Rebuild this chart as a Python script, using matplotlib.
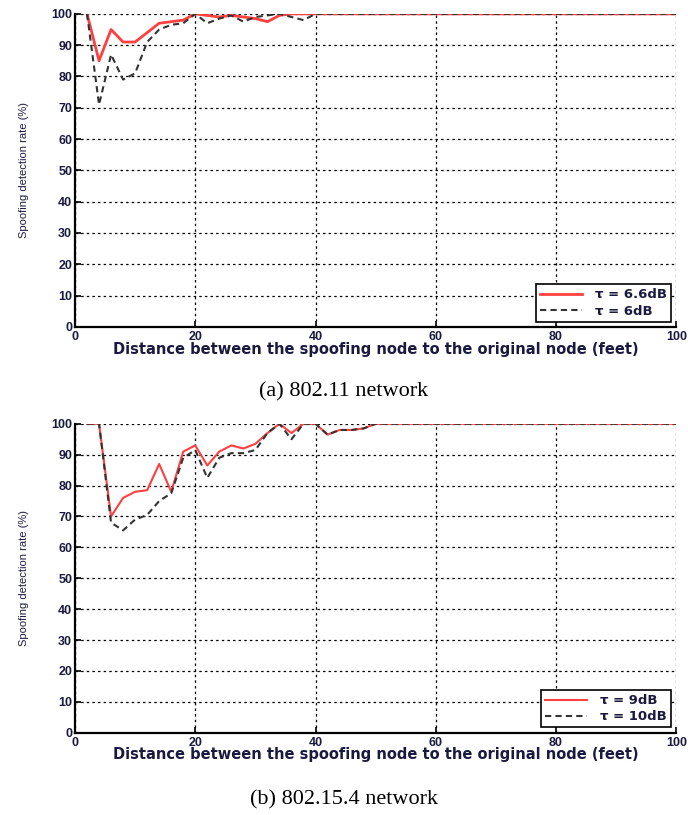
import numpy as np
import matplotlib
matplotlib.use('Agg')
import matplotlib.pyplot as plt

# (a) 802.11 network
x_a = [2, 4, 6, 8, 10, 12, 14, 16, 18, 20, 22, 24, 26, 28, 30, 32, 34, 36, 38, 40,
       50, 60, 70, 80, 90, 100]
red_a = [100, 85, 95, 91, 91, 94, 97, 97.5, 98, 100, 99.5, 99, 99.5, 99, 98.5, 97.5, 99.5, 100, 100, 100,
         100, 100, 100, 100, 100, 100]
blk_a = [100, 71, 87, 79, 81, 91, 95, 96.5, 97, 100, 97, 98.5, 99.5, 97.5, 99, 99.5, 100, 99, 98, 100,
         100, 100, 100, 100, 100, 100]

# (b) 802.15.4 network
x_b = [2, 4, 6, 8, 10, 12, 14, 16, 18, 20, 22, 24, 26, 28, 30, 32, 34, 36, 38, 40,
       42, 44, 46, 48, 50, 60, 70, 80, 90, 100]
red_b = [100, 100, 70, 76, 78, 78.5, 87, 78, 91, 93, 86.5, 91, 93, 92, 93.5, 97, 100, 97, 100, 100,
         96.5, 98, 98, 98.5, 100, 100, 100, 100, 100, 100]
blk_b = [100, 100, 68, 65.5, 69, 70.5, 75, 77.5, 89, 91.5, 82.5, 89, 90.5, 90.5, 91.5, 97, 100, 95, 100, 100,
         96.5, 98, 98, 98.5, 100, 100, 100, 100, 100, 100]

labels_a = ['τ = 6.6dB', 'τ = 6dB']
labels_b = ['τ = 9dB', 'τ = 10dB']
captions = ['(a) 802.11 network', '(b) 802.15.4 network']
xlab = 'Distance between the spoofing node to the original node (feet)'
ylab = 'Spoofing detection rate (%)'

plt.rcParams['font.family'] = ['Liberation Sans', 'DejaVu Sans']

fig = plt.figure(figsize=(6.88, 8.15), dpi=100)
ax1 = fig.add_axes([0.109, 0.599, 0.874, 0.384])
ax2 = fig.add_axes([0.109, 0.101, 0.874, 0.379])

ink = '#1a1a40'


def style(ax, x, r, b, labels, red_lw):
    ax.plot(x, r, '-', color='#ff4040', lw=red_lw, label=labels[0], zorder=3)
    ax.plot(x, b, '--', color='#333333', lw=1.5, dashes=(3, 2), label=labels[1], zorder=3)
    ax.set_xlim(0, 100)
    ax.set_ylim(0, 100)
    ax.set_xticks(range(0, 101, 20))
    ax.set_yticks(range(0, 101, 10))
    ax.grid(True, color='black', linestyle=(0, (2, 2.5)), lw=0.9)
    for s in ['top', 'right']:
        ax.spines[s].set_visible(False)
    for s in ['left', 'bottom']:
        ax.spines[s].set_linewidth(1.6)
    ax.tick_params(direction='in', length=4, width=1.2, labelsize=9)
    ax.tick_params(axis='x', pad=3)
    ax.tick_params(axis='y', pad=2)
    for t in ax.get_xticklabels() + ax.get_yticklabels():
        t.set_fontweight('bold')
        t.set_color(ink)
    ax.set_xlabel(xlab, fontsize=10.5, fontweight='bold', labelpad=-1, color=ink,
                  family='DejaVu Sans')
    ax.set_ylabel(ylab, fontsize=8, labelpad=16, color=ink)
    leg = ax.legend(loc='lower right', prop={'family': 'DejaVu Sans', 'weight': 'bold', 'size': 9.5},
                    frameon=True, fancybox=False, edgecolor='black', framealpha=1,
                    borderpad=0.3, handlelength=3.2, handletextpad=1.0,
                    labelspacing=0.25, borderaxespad=0.4)
    leg.get_frame().set_linewidth(1.2)
    for t in leg.get_texts():
        t.set_color(ink)


style(ax1, x_a, red_a, blk_a, labels_a, 2.0)
style(ax2, x_b, red_b, blk_b, labels_b, 1.5)

fig.text(0.5, 1 - 392 / 815, captions[0], ha='center', va='center',
         fontsize=16, family='Liberation Serif')
fig.text(0.5, 1 - 800 / 815, captions[1], ha='center', va='center',
         fontsize=16, family='Liberation Serif')

fig.savefig('out.png', dpi=100)
